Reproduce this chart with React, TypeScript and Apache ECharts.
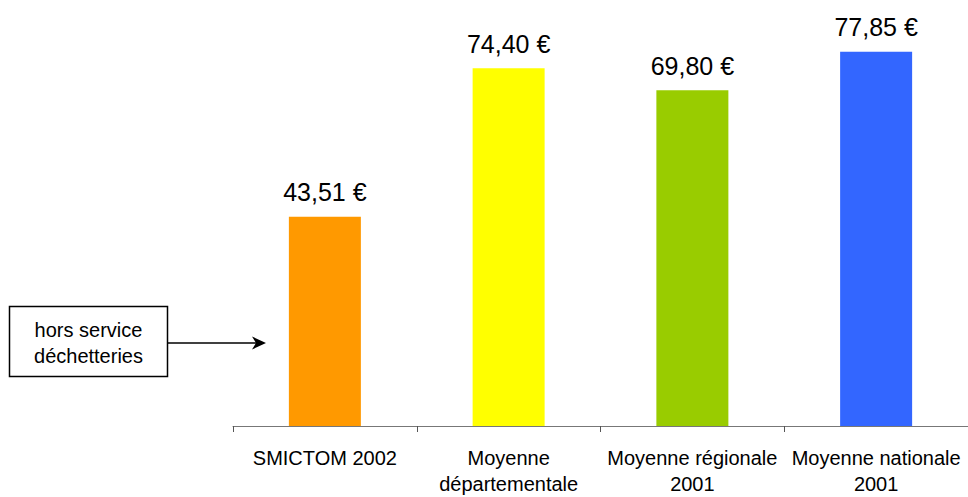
import React, { useEffect, useRef } from "react";
import * as echarts from "echarts";

const categories = [
  "SMICTOM 2002",
  "Moyenne\ndépartementale",
  "Moyenne régionale\n2001",
  "Moyenne nationale\n2001",
];
const values = [43.51, 74.4, 69.8, 77.85];
const barColors = ["#FF9900", "#FFFF00", "#99CC00", "#3366FF"];
const noteLines = ["hors service", "déchetteries"];

const fmt = (v: number) => v.toFixed(2).replace(".", ",") + " €";

export default function App() {
  const ref = useRef<HTMLDivElement>(null);
  useEffect(() => {
    if (!ref.current) return;
    const chart = echarts.init(ref.current, null, { renderer: "svg" });
    const font = "Liberation Sans, Arial, sans-serif";
    chart.setOption({
      animation: false,
      backgroundColor: "#ffffff",
      grid: { left: 233, top: 41.3, width: 739, bottom: 67, containLabel: false },
      xAxis: {
        type: "category",
        data: categories,
        axisLine: { lineStyle: { color: "#777777", width: 1 } },
        axisTick: { show: true, length: 6, lineStyle: { color: "#555555" } },
        axisLabel: {
          color: "#000000",
          fontFamily: font,
          fontSize: 20,
          lineHeight: 26,
          margin: 19,
          interval: 0,
        },
      },
      yAxis: {
        type: "value",
        min: 0,
        max: 80,
        show: false,
        splitLine: { show: false },
      },
      series: [
        {
          type: "bar",
          barWidth: 72,
          data: values.map((v, i) => ({ value: v, itemStyle: { color: barColors[i] } })),
          label: {
            show: true,
            position: "top",
            distance: 12,
            color: "#000000",
            fontFamily: font,
            fontSize: 25,
            formatter: (p: any) => fmt(p.value),
          },
        },
      ],
      graphic: [
        {
          type: "rect",
          shape: { x: 9.5, y: 306.5, width: 158, height: 70 },
          style: { fill: "#ffffff", stroke: "#000000", lineWidth: 1.5 },
        },
        {
          type: "text",
          x: 88.5,
          y: 342.5,
          style: {
            text: noteLines.join("\n"),
            fontFamily: font,
            fontSize: 20,
            lineHeight: 26,
            fill: "#000000",
            align: "center",
            verticalAlign: "middle",
          },
        },
        {
          type: "line",
          shape: { x1: 168, y1: 343, x2: 258, y2: 343 },
          style: { stroke: "#000000", lineWidth: 1.5 },
        },
        {
          type: "polygon",
          shape: { points: [[266, 343], [252, 336.5], [256, 343], [252, 349.5]] },
          style: { fill: "#000000" },
        },
      ],
    });
    return () => chart.dispose();
  }, []);
  return (
    <div
      ref={ref}
      style={{ position: "fixed", left: 0, top: 0, width: 968, height: 497 }}
    />
  );
}
